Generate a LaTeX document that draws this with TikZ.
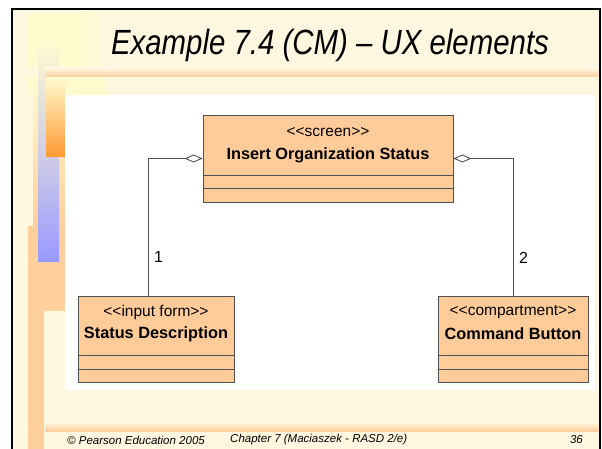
\documentclass[tikz,border=0pt]{standalone}
\usepackage{fontspec}
\setmainfont{Liberation Sans}
\usetikzlibrary{arrows.meta,calc}
\definecolor{cream}{HTML}{FFF7E0}
\definecolor{paleyel}{HTML}{FFFBCF}
\definecolor{peach}{HTML}{FFCF9C}
\definecolor{classfill}{HTML}{FFCC99}
\definecolor{classline}{HTML}{505050}
\definecolor{bluebar}{HTML}{9999FF}
\definecolor{orangebar}{HTML}{FF9933}
\newcommand\stLeft{<\kern0pt<}
\newcommand\stRight{>\kern0pt>}
\tikzset{
  classbox/.style={draw=classline, fill=classfill, line width=0.9pt, inner sep=0pt},
  compline/.style={draw=classline, line width=0.9pt},
  stereo/.style={font=\fontsize{15.5}{18}\selectfont, inner sep=0pt},
  cname/.style={font=\bfseries\fontsize{16.3}{19}\selectfont, inner sep=0pt},
  assoc/.style={draw=classline, line width=0.9pt},
  aggr/.style={assoc, {Diamond[open, length=18pt, width=8pt, line width=0.9pt]}-},
  mult/.style={font=\fontsize{16}{18}\selectfont, inner sep=0pt},
  foot/.style={font=\itshape\fontsize{11.5}{13}\selectfont, inner sep=0pt}
}
\begin{document}
\begin{tikzpicture}[x=1pt,y=-1pt]
\useasboundingbox (0,0) rectangle (602,449);
\fill[white] (0,0) rectangle (602,449);
% slide background
\fill[cream] (12,9) rectangle (600,449);
% left decorations
\fill[paleyel] (28,13) rectangle (105,68);
\shade[left color=paleyel, right color=cream] (80,13) rectangle (105,68);
\fill[paleyel] (28,77) rectangle (105,95);
\shade[top color=paleyel, bottom color=peach] (33,77) rectangle (65,226);
\fill[peach] (28,226) rectangle (44,449);
\fill[peach] (41,226) rectangle (65,311);
\shade[top color=paleyel, bottom color=bluebar, middle color=bluebar!45!paleyel] (38,40) rectangle (59,261);
\shade[top color=paleyel, bottom color=orangebar] (46,77) rectangle (65,157);
% title band and footer band
\shade[top color=cream, bottom color=peach] (45,68) rectangle (600,77);
\shade[top color=cream, bottom color=peach] (45,422) rectangle (600,431);
% frame
\draw[black, line width=1.5pt] (12,449) -- (12,9) -- (600,9) -- (600,449);
% white panel
\fill[white] (65,95) rectangle (595,390);
% title
\node[inner sep=0pt, anchor=base] (title) at (330,55)
  {\scalebox{0.84}[1]{\itshape\fontsize{35}{40}\selectfont Example 7.4 (CM) – UX elements}};
% classes
\node[classbox, minimum width=250pt, minimum height=87pt] (ios) at (328,158.5) {};
\draw[compline] (ios.west |- 0,175) -- (ios.east |- 0,175);
\draw[compline] (ios.west |- 0,188) -- (ios.east |- 0,188);
\node[stereo] (iosS) at (328,132) {\stLeft screen\stRight};
\node[cname] (iosN) at (328,155) {Insert Organization Status};

\node[classbox, minimum width=156pt, minimum height=86pt] (sd) at (156,339) {};
\draw[compline] (sd.west |- 0,355) -- (sd.east |- 0,355);
\draw[compline] (sd.west |- 0,369) -- (sd.east |- 0,369);
\node[stereo] (sdS) at (156,312) {\stLeft input form\stRight};
\node[cname] (sdN) at (156,334) {Status Description};

\node[classbox, minimum width=150pt, minimum height=86pt] (cb) at (513,339) {};
\draw[compline] (cb.west |- 0,355) -- (cb.east |- 0,355);
\draw[compline] (cb.west |- 0,369) -- (cb.east |- 0,369);
\node[stereo] (cbS) at (513,312) {\stLeft compartment\stRight};
\node[cname] (cbN) at (513,334) {Command Button};
% connectors
\draw[aggr] (ios.west) -| ([xshift=-8pt]sd.north);
\draw[aggr] (ios.east) -| (cb.north);
\node[mult, anchor=west] (m1) at (154,257) {1};
\node[mult, anchor=west] (m2) at (519,258) {2};
% footer
\node[foot, anchor=west] (f1) at (67,440) {© Pearson Education 2005};
\node[foot, anchor=west] (f2) at (230,440) {Chapter 7 (Maciaszek - RASD 2/e)};
\node[foot, anchor=east] (f3) at (583,440) {36};
\end{tikzpicture}
\end{document}
